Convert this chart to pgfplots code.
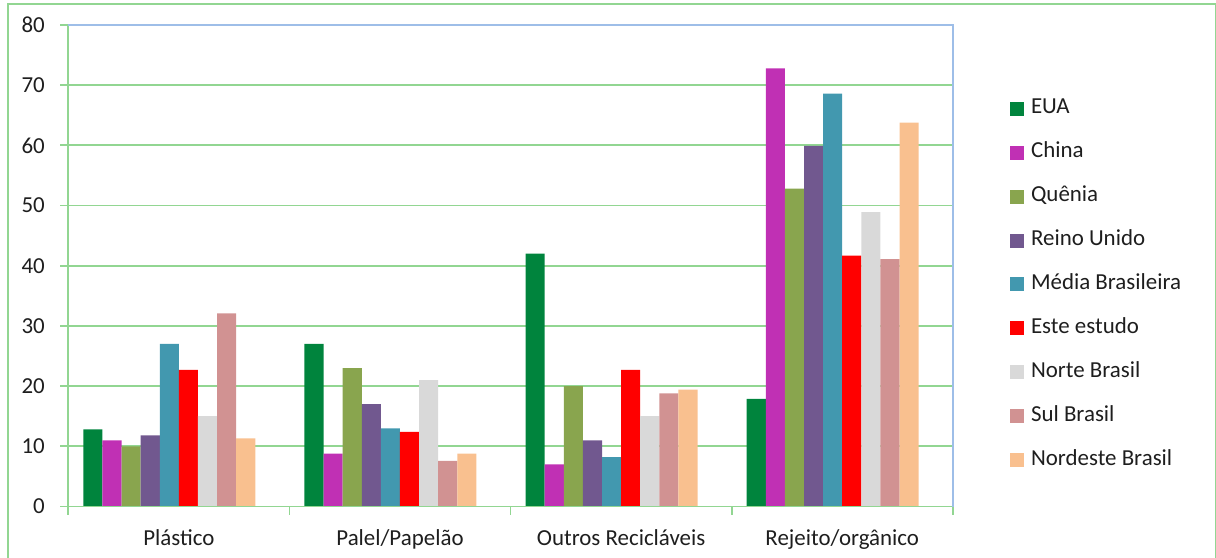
\documentclass[border=0pt]{standalone}
\usepackage{pgfplots}
\pgfplotsset{compat=1.18}
\usepackage{fontspec}
\setmainfont{Carlito}
\definecolor{gridg}{RGB}{146,214,146}
\definecolor{bordb}{RGB}{158,190,232}
\definecolor{txt}{RGB}{30,30,30}
\definecolor{cEUA}{RGB}{0,132,61}
\definecolor{cChina}{RGB}{192,48,180}
\definecolor{cQuenia}{RGB}{137,165,78}
\definecolor{cRU}{RGB}{113,88,143}
\definecolor{cMedia}{RGB}{66,152,175}
\definecolor{cEste}{RGB}{255,0,0}
\definecolor{cNorte}{RGB}{217,217,217}
\definecolor{cSul}{RGB}{209,146,146}
\definecolor{cNordeste}{RGB}{249,192,143}
\begin{document}
\begin{tikzpicture}[x=1bp,y=1bp]
\begin{axis}[
  at={(0,0)}, anchor=south west,
  scale only axis, width=884.5bp, height=481.5bp,
  ybar, bar width=0.0864,
  xmin=-0.5, xmax=3.5, ymin=0, ymax=80,
  xtick={0,1,2,3},
  xticklabels={Plástico,Palel/Papelão,Outros Recicláveis,Rejeito/orgânico},
  minor xtick={-0.5,0.5,1.5,2.5,3.5},
  xtick pos=bottom, ytick pos=left,
  major x tick style={draw=none},
  minor x tick style={draw=gridg, line width=1.8bp},
  ytick={0,10,...,80},
  ymajorgrids, major grid style={gridg, line width=1.8bp},
  y tick style={draw=gridg, line width=1.8bp},
  tick align=outside, major tick length=8bp, minor tick length=8bp,
  axis line style={draw=none},
  /pgf/number format/assume math mode=true,
  ticklabel style={font=\fontsize{23}{26}\selectfont, text=txt},
  yticklabel style={xshift=-12bp},
  xticklabel style={yshift=-12bp},
  legend style={draw=none, fill=none, at={(1.0645,0.847)}, anchor=north west,
    font=\fontsize{23}{26}\selectfont, text=txt,
    row sep=23.9bp, inner sep=0pt,
    nodes={inner sep=0pt, text height=15bp, text depth=5bp}},
  legend cell align=left,
  clip=false,
]
\pgfplotsset{every axis plot/.append style={draw=none,
  legend image code/.code={\fill[##1] (0bp,-7bp) rectangle (14bp,7bp); \path (21bp,0bp);}}}
\addplot+[fill=cEUA, bar shift=-0.3888] coordinates {(0,12.8) (1,27) (2,42) (3,17.9)};
\addplot+[fill=cChina, bar shift=-0.3024] coordinates {(0,11) (1,8.8) (2,7) (3,72.8)};
\addplot+[fill=cQuenia, bar shift=-0.216] coordinates {(0,10) (1,23) (2,20) (3,52.8)};
\addplot+[fill=cRU, bar shift=-0.1296] coordinates {(0,11.8) (1,17) (2,11) (3,59.9)};
\addplot+[fill=cMedia, bar shift=-0.0432] coordinates {(0,27) (1,13) (2,8.2) (3,68.6)};
\addplot+[fill=cEste, bar shift=0.0432] coordinates {(0,22.7) (1,12.4) (2,22.7) (3,41.7)};
\addplot+[fill=cNorte, bar shift=0.1296] coordinates {(0,15) (1,21) (2,15) (3,48.9)};
\addplot+[fill=cSul, bar shift=0.216] coordinates {(0,32.1) (1,7.6) (2,18.8) (3,41.1)};
\addplot+[fill=cNordeste, bar shift=0.3024] coordinates {(0,11.3) (1,8.8) (2,19.4) (3,63.8)};
\legend{EUA,China,Quênia,Reino Unido,Média Brasileira,Este estudo,Norte Brasil,Sul Brasil,Nordeste Brasil}
\draw[gridg, line width=1.8bp] (rel axis cs:0,0) -- (rel axis cs:0,1);
\draw[gridg, line width=1.8bp] (rel axis cs:0,0) -- (rel axis cs:1,0);
\draw[bordb, line width=1.8bp] (rel axis cs:0,1) -- (rel axis cs:1,1) -- (rel axis cs:1,0);
\end{axis}
\draw[gridg, line width=1.8bp] (-60bp,-70bp) -- (-60bp,502.5bp) -- (1147.5bp,502.5bp) -- (1147.5bp,-70bp);
\pgfresetboundingbox
\path[use as bounding box] (-68.3bp,-51.5bp) rectangle (1147.7bp,506.5bp);
\end{tikzpicture}
\end{document}
